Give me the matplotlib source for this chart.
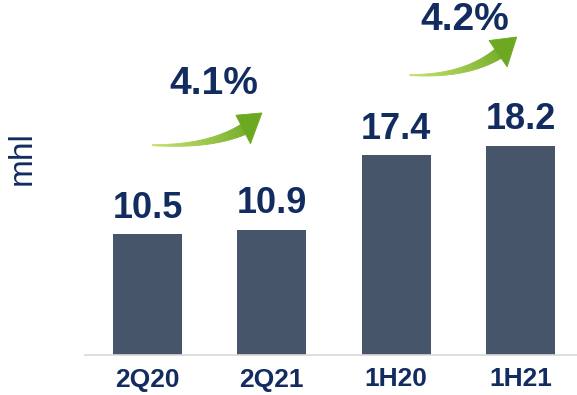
import matplotlib
matplotlib.use("Agg")

import numpy as np
import matplotlib.pyplot as plt
from matplotlib.patches import Polygon
from matplotlib.colors import to_rgb
from matplotlib.transforms import IdentityTransform

periods = ["2Q20", "2Q21", "1H20", "1H21"]
volumes = [10.5, 10.9, 17.4, 18.2]
growth_labels = ["4.1%", "4.2%"]

bar_color = "#465569"
text_color = "#132c60"

plt.rcParams["font.family"] = ["Liberation Sans", "DejaVu Sans"]

fig = plt.figure(figsize=(5.77, 3.95), dpi=100)
ax = fig.add_axes([85 / 577, 40 / 395, 492 / 577, 355 / 395])

x = list(range(len(periods)))
ax.bar(x, volumes, width=0.555, color=bar_color)

for xi, v in zip(x, volumes):
    ax.annotate(f"{v:.1f}", (xi, v), xytext=(0, 6), textcoords="offset points",
                ha="center", va="bottom", fontsize=26, fontweight="bold",
                color=text_color)

ax.set_xlim(-0.503, 3.455)
ax.set_ylim(0, 30.87)
ax.set_xticks(x)
ax.set_xticklabels(periods, fontsize=19, fontweight="bold", color=text_color)
ax.tick_params(axis="x", length=0, pad=9)
ax.set_yticks([])
for side in ["top", "right", "left"]:
    ax.spines[side].set_visible(False)
ax.spines["bottom"].set_color("#d9d9d9")
ax.spines["bottom"].set_linewidth(1.2)

fig.text(22 / 577, 1 - 158 / 395, "mhl", rotation=90, fontsize=24,
         color=text_color, ha="center", va="center")


def swoosh(ax, start, tip, c0="#c4e070", c1="#5e9e14"):
    """Tapered, upward-curving arrow drawn in pixel space."""
    fig.canvas.draw()
    p0 = ax.transData.transform(start)
    p3 = ax.transData.transform(tip)
    head_len = 24.0
    end_dir = np.array([0.74, 0.67])
    end_dir /= np.linalg.norm(end_dir)
    p2 = p3 - end_dir * head_len
    ctrl = np.array([p0[0] + 0.62 * (p2[0] - p0[0]), p0[1] - 2.0])
    t = np.linspace(0, 1, 40)
    pts = ((1 - t) ** 2)[:, None] * p0 + (2 * (1 - t) * t)[:, None] * ctrl + (t ** 2)[:, None] * p2
    tang = np.gradient(pts, axis=0)
    tang /= np.linalg.norm(tang, axis=1)[:, None]
    norm = np.stack([-tang[:, 1], tang[:, 0]], axis=1)
    half = 0.6 + 5.0 * t ** 1.3
    left = pts + norm * half[:, None]
    right = pts - norm * half[:, None]
    a, b = np.array(to_rgb(c0)), np.array(to_rgb(c1))
    for k in range(len(t) - 1):
        col = a + (b - a) * t[k] * 0.75
        quad = [left[k], left[k + 1], right[k + 1], right[k]]
        ax.add_patch(Polygon(quad, closed=True, facecolor=col, edgecolor=col,
                             lw=0.6, transform=IdentityTransform(), clip_on=False))
    nrm = np.array([-tang[-1, 1], tang[-1, 0]])
    base = pts[-1] - tang[-1] * 1.0
    head = [base + nrm * 16, p3, base - nrm * 16]
    col = a + (b - a) * 0.85
    ax.add_patch(Polygon(head, closed=True, facecolor=col, edgecolor=col, lw=0.6,
                         transform=IdentityTransform(), clip_on=False))


# growth arrows between each pair of bars: (start, tip, label position) offsets
arrow_starts = [(0.04, 7.35), (0.11, 6.15)]
arrow_tips = [(0.92, 10.15), (0.97, 9.45)]
label_pos = [(0.53, 12.65), (0.55, 10.95)]

for i, label in enumerate(growth_labels):
    x0 = x[2 * i]
    y0 = volumes[2 * i + 1]
    swoosh(ax, (x0 + arrow_starts[i][0], y0 + arrow_starts[i][1]),
           (x0 + arrow_tips[i][0], y0 + arrow_tips[i][1]))
    ax.text(x0 + label_pos[i][0], y0 + label_pos[i][1], label, ha="center",
            va="center", fontsize=28, fontweight="bold", color=text_color)

fig.savefig("out.png", dpi=100)
plt.close(fig)
